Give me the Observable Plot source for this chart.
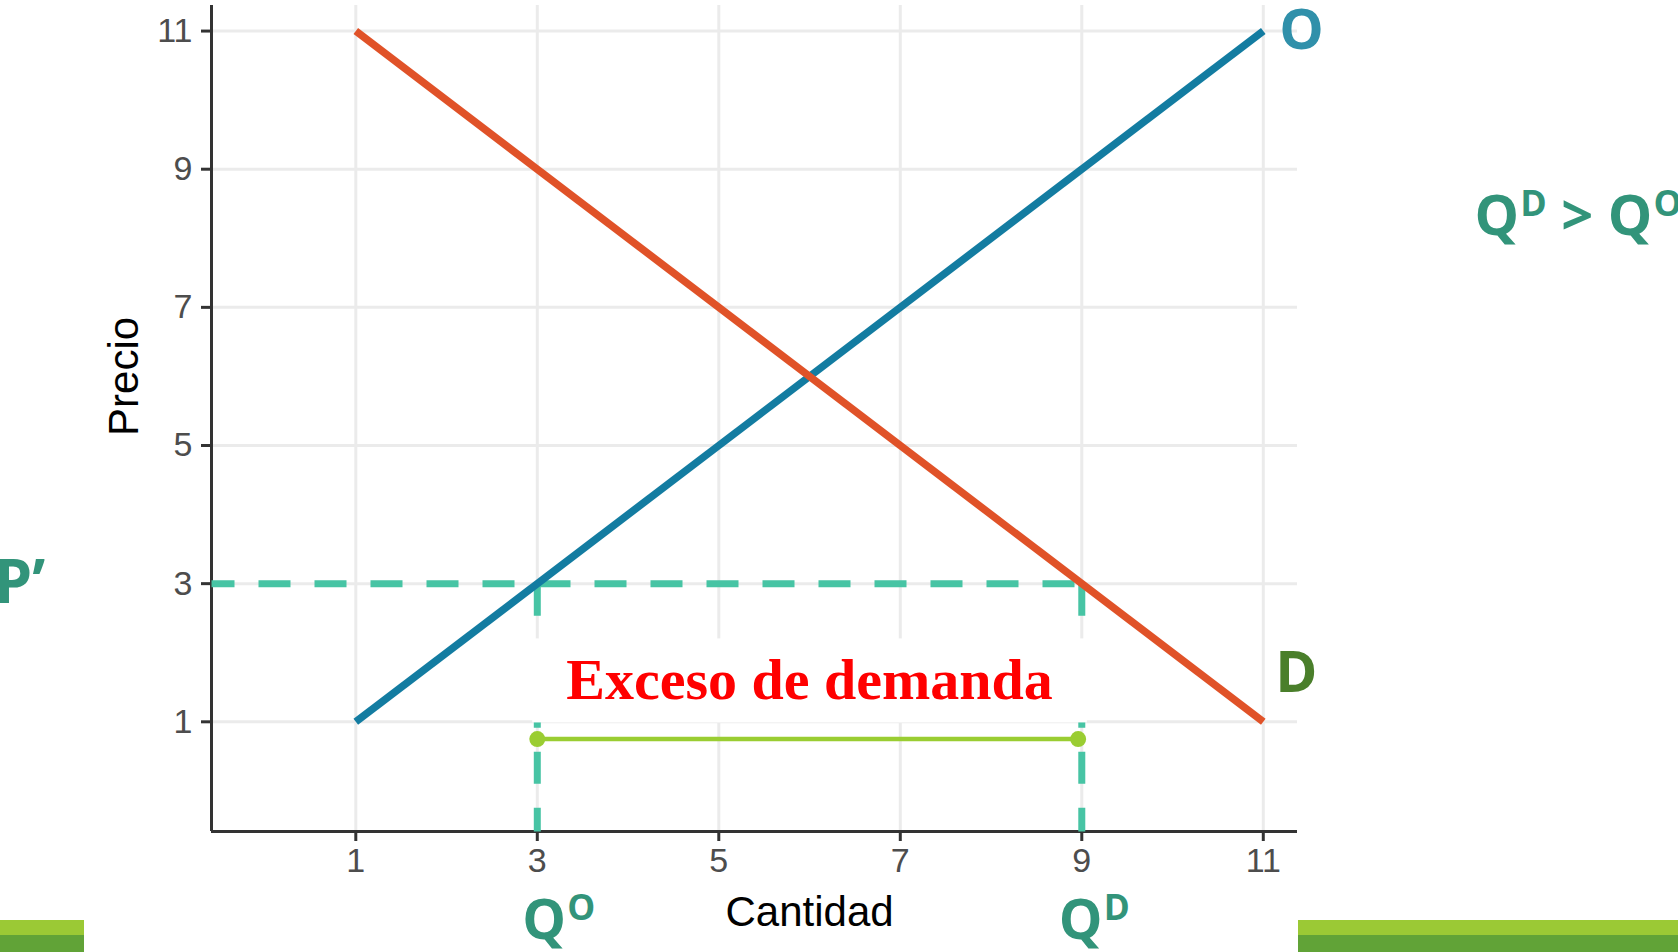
<!DOCTYPE html>
<html><head><meta charset="utf-8">
<script src="https://cdn.jsdelivr.net/npm/d3@7"></script>
<script src="https://cdn.jsdelivr.net/npm/@observablehq/plot@0.6"></script>
<style>
html,body{margin:0;padding:0;background:#fff;}
#wrap{position:relative;width:1678px;height:952px;overflow:hidden;background:#fff;}
#wrap svg{position:absolute;left:0;top:0;}
.barra{position:absolute;}
</style></head><body>
<div id="wrap"></div>
<script>
// ---- data ----
const cantidad = [1, 11];
const precioOferta = [1, 11];
const precioDemanda = [11, 1];
const ticksX = [1, 3, 5, 7, 9, 11];
const ticksY = [1, 3, 5, 7, 9, 11];
const dominioX = [-0.59, 11.377];
const dominioY = [-0.588, 11.37];
const precioMaximo = 3;        // P'
const cantidadOfrecida = 3;    // Q^O
const cantidadDemandada = 9;   // Q^D
const excesoY = 0.75;
const excesoX = [3, 8.96];
const textoExceso = "Exceso de demanda";
const excesoPos = {x: 6, y: 1.6};

const oferta = cantidad.map((q, i) => ({q, p: precioOferta[i]}));
const demanda = cantidad.map((q, i) => ({q, p: precioDemanda[i]}));
const horizontal = [{q: dominioX[0], p: precioMaximo}, {q: cantidadDemandada, p: precioMaximo}];
const vertO = [{q: cantidadOfrecida, p: precioMaximo}, {q: cantidadOfrecida, p: dominioY[0]}];
const vertD = [{q: cantidadDemandada, p: precioMaximo}, {q: cantidadDemandada, p: dominioY[0]}];
const exceso = excesoX.map(q => ({q, p: excesoY}));

const teal = "#47C4A4";
const labelFont = "'Open Sans', 'Noto Sans', sans-serif";
const dash = {stroke: teal, strokeWidth: 7, strokeDasharray: "32,24", strokeLinecap: "butt"};

const chart = Plot.plot({
  width: 1678, height: 952,
  marginLeft: 211, marginRight: 381, marginTop: 5, marginBottom: 121,
  x: {domain: dominioX, label: null},
  y: {domain: dominioY, label: null},
  style: {fontFamily: "'Liberation Sans', Arial, sans-serif", background: "transparent", overflow: "visible"},
  marks: [
    Plot.gridX({ticks: ticksX, stroke: "#EBEBEB", strokeOpacity: 1, strokeWidth: 3}),
    Plot.gridY({ticks: ticksY, stroke: "#EBEBEB", strokeOpacity: 1, strokeWidth: 3}),
    Plot.ruleX([dominioX[0]], {stroke: "#333", strokeWidth: 3}),
    Plot.ruleY([dominioY[0]], {stroke: "#333", strokeWidth: 3}),
    Plot.axisX({ticks: ticksX, tickSize: 10, tickPadding: 6, fontSize: 34, stroke: "#333", strokeWidth: 3, fill: "#4D4D4D", label: null}),
    Plot.axisY({ticks: ticksY, tickSize: 10, tickPadding: 9, fontSize: 34, stroke: "#333", strokeWidth: 3, fill: "#4D4D4D", label: null}),
    Plot.line(horizontal, {x: "q", y: "p", ...dash, strokeDashoffset: 9}),
    Plot.line(vertO, {x: "q", y: "p", ...dash}),
    Plot.line(vertD, {x: "q", y: "p", ...dash}),
    Plot.line(oferta, {x: "q", y: "p", stroke: "#137CA1", strokeWidth: 7.5, strokeLinecap: "butt"}),
    Plot.line(demanda, {x: "q", y: "p", stroke: "#E05228", strokeWidth: 7.5, strokeLinecap: "butt"}),
    Plot.text([textoExceso], {x: [excesoPos.x], y: [excesoPos.y], fill: "#FF0000", fontSize: 58, fontWeight: "bold",
      fontFamily: "'Liberation Serif', 'DejaVu Serif', serif", lineAnchor: "middle", className: "exceso"}),
    Plot.line(exceso, {x: "q", y: "p", stroke: "#9ACD32", strokeWidth: 4.5}),
    Plot.dot(exceso, {x: "q", y: "p", fill: "#9ACD32", r: 8}),
    // axis titles
    Plot.text(["Cantidad"], {x: [d3.mean(ticksX)], frameAnchor: "bottom", dy: 81, fontSize: 42, fill: "#000",
      textAnchor: "middle", lineAnchor: "middle"}),
    Plot.text(["Precio"], {y: [d3.mean(ticksY)], frameAnchor: "left", dx: -86.5, rotate: -90, fontSize: 42, fill: "#000",
      textAnchor: "middle", lineAnchor: "middle"}),
    // annotation labels
    Plot.text(["O"], {x: [cantidad[1]], y: [precioOferta[1]], dx: 16, textAnchor: "start", lineAnchor: "middle",
      fontSize: 56, fontWeight: "bold", fontFamily: labelFont, fill: "#3090AA"}),
    Plot.text(["D"], {x: [cantidad[1]], y: [precioDemanda[1]], dx: 12, dy: -48, textAnchor: "start", lineAnchor: "middle",
      fontSize: 57, fontWeight: "bold", fontFamily: labelFont, fill: "#4A7F2B"}),
    Plot.text(["P’"], {y: [precioMaximo], frameAnchor: "left", dx: -217, textAnchor: "start", lineAnchor: "middle",
      fontSize: 60, fontWeight: "bold", fontFamily: labelFont, fill: "#32947A"}),
    Plot.text(["Q^O"], {x: [cantidadOfrecida], frameAnchor: "bottom", dx: -15, dy: 68, textAnchor: "start", lineAnchor: "top",
      fontSize: 55, fontWeight: "bold", fontFamily: labelFont, fill: "#32947A"}),
    Plot.text(["Q^D"], {x: [cantidadDemandada], frameAnchor: "bottom", dx: -23, dy: 68, textAnchor: "start", lineAnchor: "top",
      fontSize: 55, fontWeight: "bold", fontFamily: labelFont, fill: "#32947A"}),
    Plot.text(["Q^D > Q^O"], {frameAnchor: "top-right", dx: 177, dy: 190, textAnchor: "start", lineAnchor: "top",
      fontSize: 56, fontWeight: "bold", fontFamily: labelFont, fill: "#32947A"})
  ]
});

const wrap = document.getElementById("wrap");
wrap.appendChild(chart);

// white label box behind "Exceso de demanda" (like geom_label)
d3.select(chart).selectAll("g.exceso text").each(function() {
  const b = this.getBBox();
  const padX = 34, h = 84;
  const cy = b.y + b.height / 2 + 1;
  const rect = document.createElementNS("http://www.w3.org/2000/svg", "rect");
  rect.setAttribute("x", b.x - padX);
  rect.setAttribute("y", cy - h / 2);
  rect.setAttribute("width", b.width + 2 * padX);
  rect.setAttribute("height", h);
  rect.setAttribute("fill", "#fff");
  const tr = this.getAttribute("transform");
  if (tr) rect.setAttribute("transform", tr);
  this.parentNode.insertBefore(rect, this);
});

// superscripts: "Q^D" -> Q + raised D
d3.select(chart).selectAll("text").each(function() {
  const t = this.textContent;
  if (!t.includes("^")) return;
  const fs = parseFloat(getComputedStyle(this).fontSize);
  const el = d3.select(this);
  el.text(null);
  const parts = t.split(/(\^\w)/);
  let raised = false;
  for (const p of parts) {
    if (!p) continue;
    if (p.startsWith("^")) {
      el.append("tspan").attr("font-size", fs * 0.64).attr("dx", fs * 0.02).attr("dy", -fs * 0.34).text(p.slice(1));
      raised = true;
    } else {
      const ts = el.append("tspan").text(p);
      if (raised) ts.attr("dy", fs * 0.34);
      raised = false;
    }
  }
});

// decorative slide bars
const barras = [
  {left: 0, width: 84},
  {left: 1298, width: 380}
];
for (const b of barras) {
  const light = document.createElement("div");
  light.className = "barra";
  Object.assign(light.style, {left: b.left + "px", top: "920px", width: b.width + "px", height: "15px", background: "#9BC935"});
  const dark = document.createElement("div");
  dark.className = "barra";
  Object.assign(dark.style, {left: b.left + "px", top: "935px", width: b.width + "px", height: "17px", background: "#61A337"});
  wrap.appendChild(light);
  wrap.appendChild(dark);
}
</script>
</body></html>
